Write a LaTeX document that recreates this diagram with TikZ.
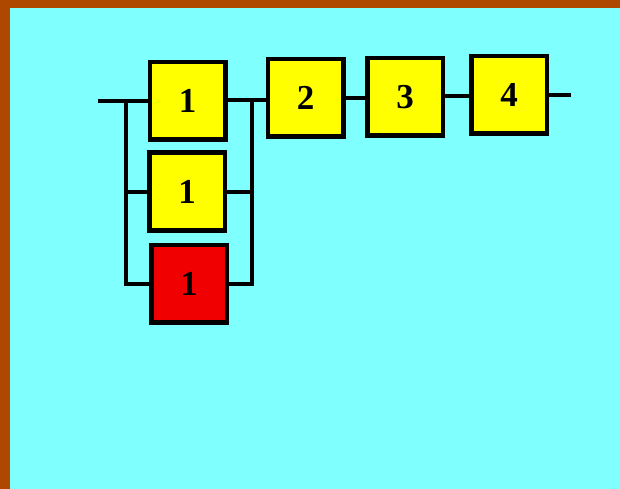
\documentclass[tikz,border=0pt]{standalone}
\usepackage{fontspec}
\setmainfont{Liberation Serif}
\definecolor{bgorange}{HTML}{AE4800}
\definecolor{panelcyan}{HTML}{80FFFF}
\definecolor{boxyellow}{HTML}{FFFF00}
\definecolor{boxred}{HTML}{F00000}
\begin{document}
\begin{tikzpicture}[x=1pt,y=-1pt,
  blk/.style={draw=black,line width=4.5pt,fill=boxyellow,minimum width=75.5pt,minimum height=77.5pt,inner sep=0pt,
    font=\fontsize{35}{35}\selectfont\bfseries},
  wire/.style={line width=4pt,black}]
\fill[bgorange] (0,0) rectangle (620,489);
\fill[panelcyan] (10,8) rectangle (620,489);
\useasboundingbox (0,0) rectangle (620,489);
\node[blk] (b1a) at (187.5,101) {1};
\node[blk] (b1b) at (187,191.5) {1};
\node[blk,fill=boxred] (b1c) at (189,283.5) {1};
\node[blk] (b2) at (305.5,98) {2};
\node[blk] (b3) at (405,97) {3};
\node[blk] (b4) at (509,95) {4};
\coordinate (in) at (98,101.5);
\coordinate (lb) at (126,101.5);
\coordinate (rb) at (252,100);
\coordinate (out) at (571,95);
\draw[wire] (in) -- (in -| b1a.west);
\draw[wire] (lb) |- (b1b.west);
\draw[wire] (lb) |- (b1c.west);
\draw[wire] (b1a.east |- rb) -- (rb -| b2.west);
\draw[wire] (rb) |- (b1b.east);
\draw[wire] (rb) |- (b1c.east);
\draw[wire] (b2.east |- 0,98.5) -- (b3.west |- 0,98.5);
\draw[wire] (b3.east |- 0,96.5) -- (b4.west |- 0,96.5);
\draw[wire] (b4.east |- out) -- (out);
\end{tikzpicture}
\end{document}
